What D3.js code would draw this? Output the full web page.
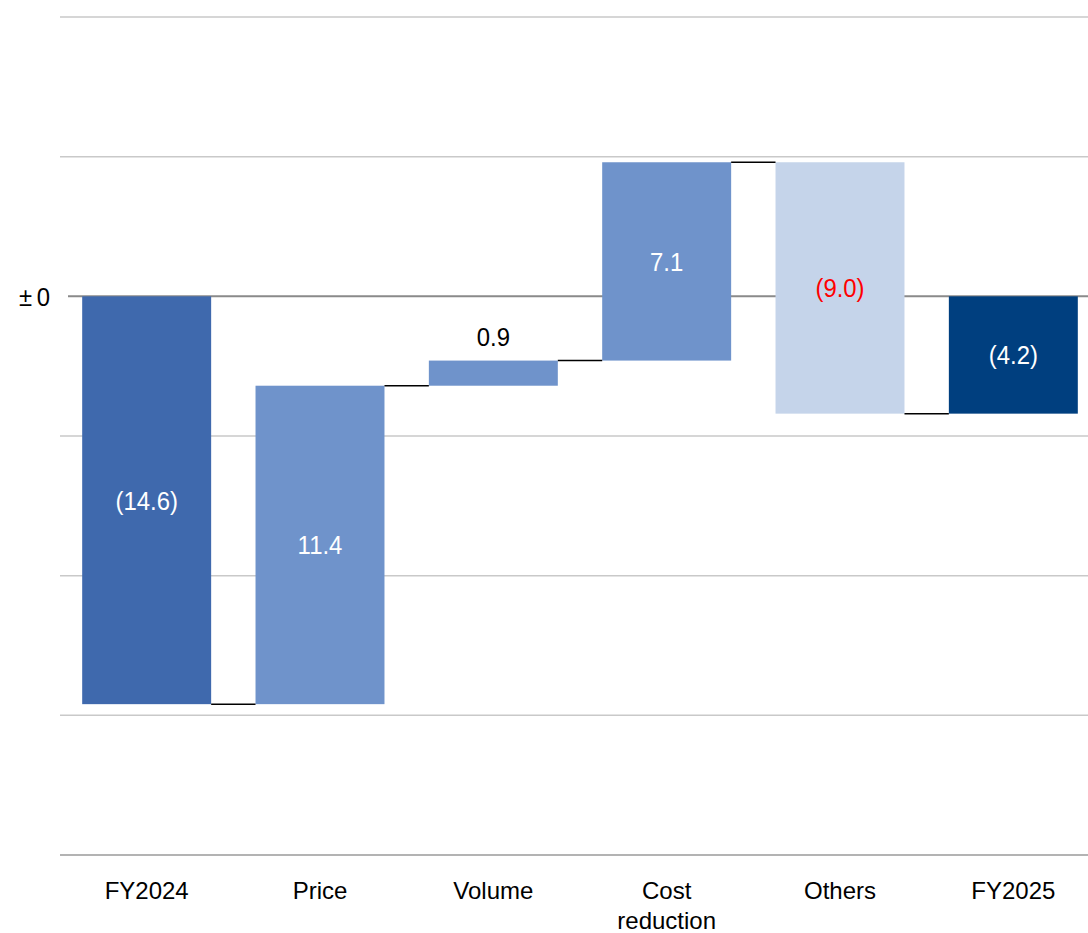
<!DOCTYPE html>
<html>
<head>
<meta charset="utf-8">
<script src="https://cdn.jsdelivr.net/npm/d3@7"></script>
<style>
  html, body { margin: 0; padding: 0; background: #fff; }
  svg { display: block; }
  .cat { font-family: "Liberation Sans", Arial, sans-serif; font-size: 24px; fill: #000; }
  .val { font-family: "Liberation Sans", Arial, sans-serif; font-size: 26px; }
</style>
</head>
<body>
<svg id="chart" width="1088" height="933"></svg>
<script>
// Operating profit bridge, FY2024 → FY2025
const categories = ["FY2024", "Price", "Volume", "Cost reduction", "Others", "FY2025"];
const values = [-14.6, 11.4, 0.9, 7.1, -9.0, -4.2];
const kinds = ["total", "delta", "delta", "delta", "delta", "total"];
const barColors = ["#3f69ad", "#6f93cb", "#6f93cb", "#6f93cb", "#c5d4ea", "#003f7f"];
const labelColors = ["#ffffff", "#ffffff", "#000000", "#ffffff", "#ff0000", "#ffffff"];
const labelAbove = [false, false, true, false, false, false];
const yTicks = [-20, -15, -10, -5, 0, 5, 10];

const svg = d3.select("#chart");

const x = d3.scaleBand()
  .domain(categories)
  .range([60, 1100])
  .paddingInner(0.256)
  .paddingOuter(0.128);

const y = d3.scaleLinear().domain([-20, 10]).range([855, 17]);

// running start/end for each bar
let run = 0;
const bars = categories.map((c, i) => {
  let start, end;
  if (kinds[i] === "total") { start = 0; end = values[i]; run = values[i]; }
  else { start = run; end = run + values[i]; run = end; }
  return { cat: c, start, end, value: values[i], i };
});

// gridlines
svg.append("g").selectAll("line")
  .data(yTicks.filter(t => t !== 0 && t !== -20))
  .join("line")
  .attr("x1", 60).attr("x2", 1088)
  .attr("y1", d => y(d)).attr("y2", d => y(d))
  .attr("stroke", "#c9c9c9").attr("stroke-width", 1.5);

// bottom axis line
svg.append("line")
  .attr("x1", 60).attr("x2", 1088)
  .attr("y1", y(-20)).attr("y2", y(-20))
  .attr("stroke", "#9a9a9a").attr("stroke-width", 1.5);

// zero line
svg.append("line")
  .attr("x1", 68).attr("x2", 1088)
  .attr("y1", y(0)).attr("y2", y(0))
  .attr("stroke", "#8a8a8a").attr("stroke-width", 2);

// bars
svg.append("g").selectAll("rect")
  .data(bars)
  .join("rect")
  .attr("x", d => x(d.cat))
  .attr("width", x.bandwidth())
  .attr("y", d => y(Math.max(d.start, d.end)))
  .attr("height", d => Math.abs(y(d.start) - y(d.end)))
  .attr("fill", (d, i) => barColors[i]);

// connectors between consecutive bars
svg.append("g").selectAll("line")
  .data(bars.slice(0, -1))
  .join("line")
  .attr("x1", d => x(d.cat) + x.bandwidth())
  .attr("x2", d => x(categories[d.i + 1]))
  .attr("y1", d => y(d.end)).attr("y2", d => y(d.end))
  .attr("stroke", "#000").attr("stroke-width", 1.5);

// ±0 tick label
const zeroLabel = svg.append("text")
  .attr("class", "val")
  .attr("transform", `translate(50,${y(0)}) scale(0.92,1)`)
  .attr("text-anchor", "end")
  .attr("dominant-baseline", "central")
  .style("font-size", "26px");
zeroLabel.append("tspan").text("±");
zeroLabel.append("tspan").attr("dx", 5).text("0");

// value labels, slightly narrowed
const fmt = v => v < 0 ? `(${Math.abs(v).toFixed(1)})` : v.toFixed(1);
svg.append("g").selectAll("text")
  .data(bars)
  .join("text")
  .attr("class", "val")
  .attr("transform", d => {
    const cx = x(d.cat) + x.bandwidth() / 2;
    const cy = labelAbove[d.i]
      ? y(Math.max(d.start, d.end)) - 24
      : (y(d.start) + y(d.end)) / 2;
    return `translate(${cx},${cy}) scale(0.92,1)`;
  })
  .attr("text-anchor", "middle")
  .attr("dominant-baseline", "central")
  .attr("fill", d => labelColors[d.i])
  .text(d => fmt(d.value));

// category labels
const catG = svg.append("g");
categories.forEach(c => {
  const words = c === "Cost reduction" ? ["Cost", "reduction"] : [c];
  const t = catG.append("text")
    .attr("class", "cat")
    .attr("x", x(c) + x.bandwidth() / 2)
    .attr("y", 899)
    .attr("text-anchor", "middle");
  words.forEach((w, k) => {
    t.append("tspan")
      .attr("x", x(c) + x.bandwidth() / 2)
      .attr("dy", k === 0 ? 0 : 30)
      .text(w);
  });
});
</script>
</body>
</html>
